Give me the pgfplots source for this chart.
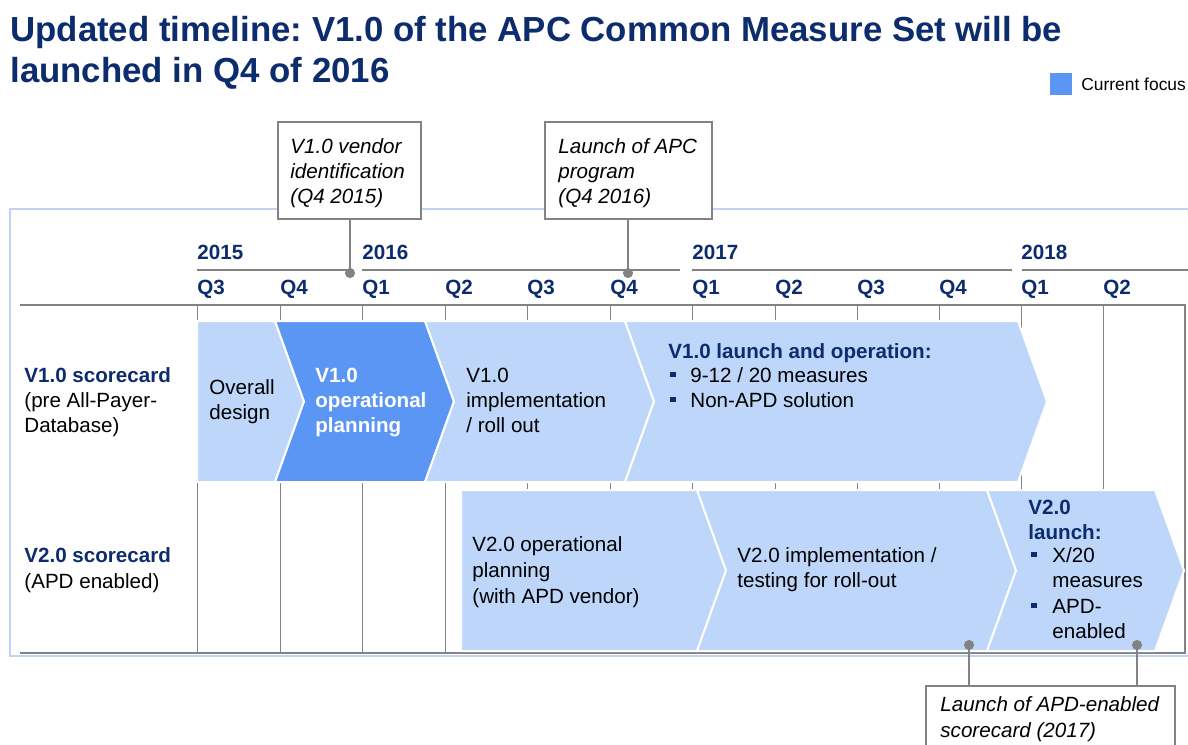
\documentclass[border=0pt]{standalone}
\usepackage{pgfplots}
\pgfplotsset{compat=1.18}
\usepackage{fontspec}
\setmainfont{Liberation Sans}
\frenchspacing
\definecolor{dblue}{RGB}{12,44,110}
\definecolor{lblue}{RGB}{189,214,249}
\definecolor{fblue}{RGB}{91,150,245}
\definecolor{framec}{RGB}{190,212,242}
\definecolor{gline}{RGB}{130,130,130}
\newcommand{\T}[3]{\node[anchor=base west,inner sep=0pt] at (axis cs:#1,#2) {#3};}
\newcommand{\B}[2]{\node[anchor=base west,inner sep=0pt] at (axis cs:#1,#2) {\color{dblue}\rule[0.22em]{0.26em}{0.26em}};}
\begin{document}
\begin{tikzpicture}[font=\fontsize{10.3}{12.5}\selectfont]
\begin{axis}[name=ax, at={(0,0)}, anchor=south west, scale only axis,
  width=594pt, height=372pt, xmin=0, xmax=1188, ymin=0, ymax=744,
  y dir=reverse, hide axis, clip=false]
% outer light frame
\addplot[framec, line width=1pt] coordinates {(1195,209) (10,209) (10,656) (1195,656)};
% year lines
\addplot[gline, line width=0.6pt] coordinates {(197,270) (350,270)};
\addplot[gline, line width=0.6pt] coordinates {(362,270) (680,270)};
\addplot[gline, line width=0.6pt] coordinates {(692,270) (1012,270)};
\addplot[gline, line width=0.6pt] coordinates {(1022,270) (1195,270)};
% vertical grid
\addplot[gline, line width=0.5pt] coordinates {(197,305) (197,653)};
\addplot[gline, line width=0.5pt] coordinates {(280,305) (280,653)};
\addplot[gline, line width=0.5pt] coordinates {(362,305) (362,653)};
\addplot[gline, line width=0.5pt] coordinates {(445,305) (445,653)};
\addplot[gline, line width=0.5pt] coordinates {(527,305) (527,653)};
\addplot[gline, line width=0.5pt] coordinates {(610,305) (610,653)};
\addplot[gline, line width=0.5pt] coordinates {(692,305) (692,653)};
\addplot[gline, line width=0.5pt] coordinates {(775,305) (775,653)};
\addplot[gline, line width=0.5pt] coordinates {(857,305) (857,653)};
\addplot[gline, line width=0.5pt] coordinates {(939,305) (939,653)};
\addplot[gline, line width=0.5pt] coordinates {(1021,305) (1021,653)};
\addplot[gline, line width=0.5pt] coordinates {(1103,305) (1103,653)};
\addplot[gline, line width=0.6pt] coordinates {(1185,305) (1185,653)};
% header and bottom lines
\addplot[gline, line width=1.1pt] coordinates {(20,305) (1186,305)};
\addplot[gline, line width=1.1pt] coordinates {(20,653) (1186,653)};
% row 1 chevrons
\addplot[fill=lblue, draw=white, line width=1pt] coordinates {(197,321) (275,321) (304,401.5) (275,482) (197,482)} -- cycle;
\addplot[fill=fblue, draw=white, line width=1pt] coordinates {(275,321) (425,321) (454,401.5) (425,482) (275,482) (304,401.5)} -- cycle;
\addplot[fill=lblue, draw=white, line width=1pt] coordinates {(425,321) (625,321) (654,401.5) (625,482) (425,482) (454,401.5)} -- cycle;
\addplot[fill=lblue, draw=white, line width=1pt] coordinates {(625,321) (1018,321) (1047,401.5) (1018,482) (625,482) (654,401.5)} -- cycle;
% row 2 chevrons
\addplot[fill=lblue, draw=white, line width=1pt] coordinates {(461,490) (697,490) (726,570.5) (697,651) (461,651)} -- cycle;
\addplot[fill=lblue, draw=white, line width=1pt] coordinates {(697,490) (987,490) (1016,570.5) (987,651) (697,651) (726,570.5)} -- cycle;
\addplot[fill=lblue, draw=white, line width=1pt] coordinates {(987,490) (1155,490) (1184,570.5) (1155,651) (987,651) (1016,570.5)} -- cycle;
% callout boxes
\addplot[fill=white, draw=gline, line width=0.6pt] coordinates {(278,122) (421,122) (421,219) (278,219)} -- cycle;
\addplot[fill=white, draw=gline, line width=0.6pt] coordinates {(545,122) (712,122) (712,219) (545,219)} -- cycle;
\addplot[fill=white, draw=gline, line width=0.6pt] coordinates {(926,686) (1175,686) (1175,760) (926,760)} -- cycle;
% connectors
\addplot[gline, line width=0.6pt] coordinates {(350,219) (350,273)};
\addplot[gline, line width=0.6pt] coordinates {(628,219) (628,273)};
\addplot[gline, line width=0.6pt] coordinates {(969,645) (969,686)};
\addplot[gline, line width=0.6pt] coordinates {(1137,645) (1137,686)};
\addplot[only marks, mark=*, mark size=2.3pt, color=gline] coordinates {(350,273) (628,273) (969,645) (1137,645)};
% legend square
\addplot[fill=fblue, draw=none] coordinates {(1050,73) (1072,73) (1072,95) (1050,95)} -- cycle;
% title
\node[anchor=base west, inner sep=0pt, text=dblue, font=\fontsize{17.4}{21}\selectfont\bfseries] at (axis cs:10,41) {Updated timeline: V1.0 of the APC Common Measure Set will be};
\node[anchor=base west, inner sep=0pt, text=dblue, font=\fontsize{17.4}{21}\selectfont\bfseries] at (axis cs:10,82) {launched in Q4 of 2016};
\node[anchor=base west, inner sep=0pt, font=\fontsize{8.7}{10}\selectfont] at (axis cs:1081,90) {Current focus};
% callout texts
\T{290}{153}{\itshape V1.0 vendor}
\T{290}{178}{\itshape identification}
\T{290}{203}{\itshape (Q4 2015)}
\T{558}{153}{\itshape Launch of APC}
\T{558}{178}{\itshape program}
\T{558}{203}{\itshape (Q4 2016)}
\T{940}{711}{\itshape Launch of APD-enabled}
\T{940}{737}{\itshape scorecard (2017)}
% years and quarters
\T{197}{259}{\bfseries\color{dblue}2015}
\T{362}{259}{\bfseries\color{dblue}2016}
\T{692}{259}{\bfseries\color{dblue}2017}
\T{1021}{259}{\bfseries\color{dblue}2018}
\T{197}{294}{\bfseries\color{dblue}Q3}
\T{280}{294}{\bfseries\color{dblue}Q4}
\T{362}{294}{\bfseries\color{dblue}Q1}
\T{445}{294}{\bfseries\color{dblue}Q2}
\T{527}{294}{\bfseries\color{dblue}Q3}
\T{610}{294}{\bfseries\color{dblue}Q4}
\T{692}{294}{\bfseries\color{dblue}Q1}
\T{775}{294}{\bfseries\color{dblue}Q2}
\T{857}{294}{\bfseries\color{dblue}Q3}
\T{939}{294}{\bfseries\color{dblue}Q4}
\T{1021}{294}{\bfseries\color{dblue}Q1}
\T{1103}{294}{\bfseries\color{dblue}Q2}
% row labels
\T{24}{382}{\bfseries\color{dblue}V1.0 scorecard}
\T{24}{407}{(pre All-Payer-}
\T{24}{432}{Database)}
\T{24}{562}{\bfseries\color{dblue}V2.0 scorecard}
\T{24}{588}{(APD enabled)}
% chevron texts row 1
\T{209}{394}{Overall}
\T{209}{419}{design}
\T{315}{382}{\bfseries\color{white}V1.0}
\T{315}{407}{\bfseries\color{white}operational}
\T{315}{432}{\bfseries\color{white}planning}
\T{466}{382}{V1.0}
\T{466}{407}{implementation}
\T{466}{432}{/ roll out}
\T{668}{358}{\bfseries\color{dblue}V1.0 launch and operation:}
\B{670}{382}
\T{690}{382}{9-12 / 20 measures}
\B{670}{407}
\T{690}{407}{Non-APD solution}
% chevron texts row 2
\T{472}{551}{V2.0 operational}
\T{472}{577}{planning}
\T{472}{603}{(with APD vendor)}
\T{737}{562}{V2.0 implementation /}
\T{737}{587}{testing for roll-out}
\T{1028}{514}{\bfseries\color{dblue}V2.0}
\T{1028}{539}{\bfseries\color{dblue}launch:}
\B{1031}{562}
\T{1052}{562}{X/20}
\T{1052}{587}{measures}
\B{1031}{613}
\T{1052}{613}{APD-}
\T{1052}{638}{enabled}
\end{axis}
\pgfresetboundingbox
\path[use as bounding box] (ax.south west) rectangle (ax.north east);
\end{tikzpicture}
\end{document}
